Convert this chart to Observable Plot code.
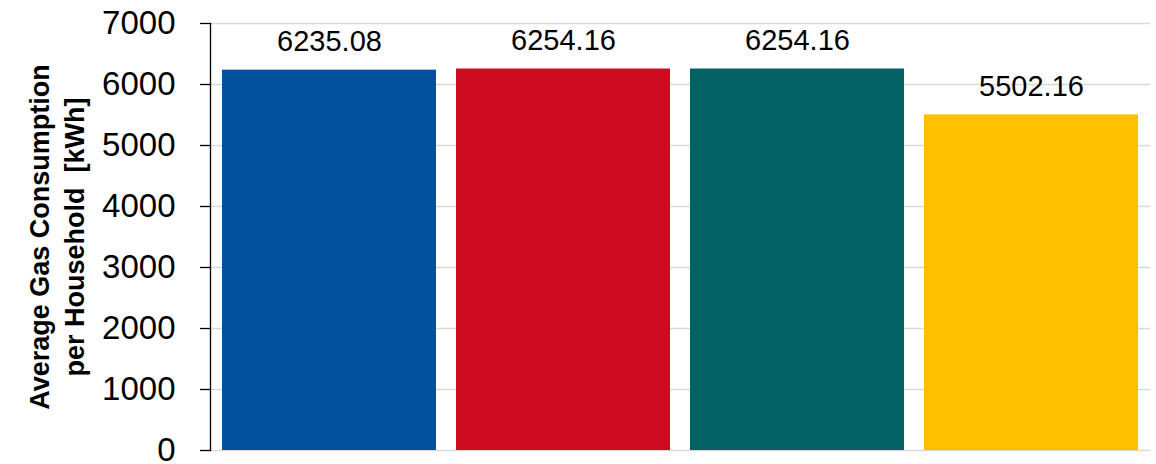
<!DOCTYPE html>
<html>
<head>
<meta charset="utf-8">
<script src="https://cdn.jsdelivr.net/npm/d3@7"></script>
<script src="https://cdn.jsdelivr.net/npm/@observablehq/plot@0.6"></script>
<style>
  html, body { margin: 0; padding: 0; background: #fff; }
  #chart { width: 1156px; height: 464px; }
</style>
</head>
<body>
<div id="chart"></div>
<script>
// Average gas consumption per household, one bar per case
const bars = ["Case 1", "Case 2", "Case 3", "Case 4"];
const values = [6235.08, 6254.16, 6254.16, 5502.16];
const colors = ["#03519c", "#cc0a20", "#036163", "#ffc000"];
const yTicks = [0, 1000, 2000, 3000, 4000, 5000, 6000, 7000];
const titleLines = ["Average Gas Consumption", "per Household  [kWh]"];

const data = bars.map((b, i) => ({bar: b, value: values[i], color: colors[i]}));
const font = "'Liberation Sans', Arial, sans-serif";

const chart = Plot.plot({
  width: 1156,
  height: 464,
  marginLeft: 210,
  marginRight: 6,
  marginTop: 23,
  marginBottom: 14,
  style: {fontFamily: font, fontSize: "33px", color: "#000", background: "#fff", overflow: "visible"},
  x: {domain: bars, paddingInner: 0.085, paddingOuter: 0.051, axis: null},
  y: {domain: [0, 7000], axis: null},
  marks: [
    Plot.gridY(yTicks, {stroke: "#d9d9d9", strokeOpacity: 1, strokeWidth: 1.3}),
    Plot.barY(data, {x: "bar", y: "value", fill: "color"}),
    Plot.text(data, {
      x: "bar", y: "value", text: d => d.value.toFixed(2),
      lineAnchor: "bottom", dy: -19, fontSize: 29, fill: "#000"
    }),
    Plot.axisY(yTicks, {
      tickSize: 10, tickPadding: 25, fontSize: 33, stroke: "#000", strokeWidth: 1.3,
      tickFormat: d => String(d), label: null
    }),
    Plot.frame({anchor: "left", stroke: "#000", strokeWidth: 1.3}),
    // two-line rotated axis title in the left margin
    Plot.text([titleLines[0]], {
      frameAnchor: "left", rotate: -90, textAnchor: "middle", lineAnchor: "bottom", dx: -162,
      fontSize: 27, fontWeight: "bold", fill: "#000"
    }),
    Plot.text([titleLines[1]], {
      frameAnchor: "left", rotate: -90, textAnchor: "middle", lineAnchor: "bottom", dx: -127,
      fontSize: 27, fontWeight: "bold", fill: "#000"
    })
  ]
});

document.getElementById("chart").appendChild(chart);
</script>
</body>
</html>
